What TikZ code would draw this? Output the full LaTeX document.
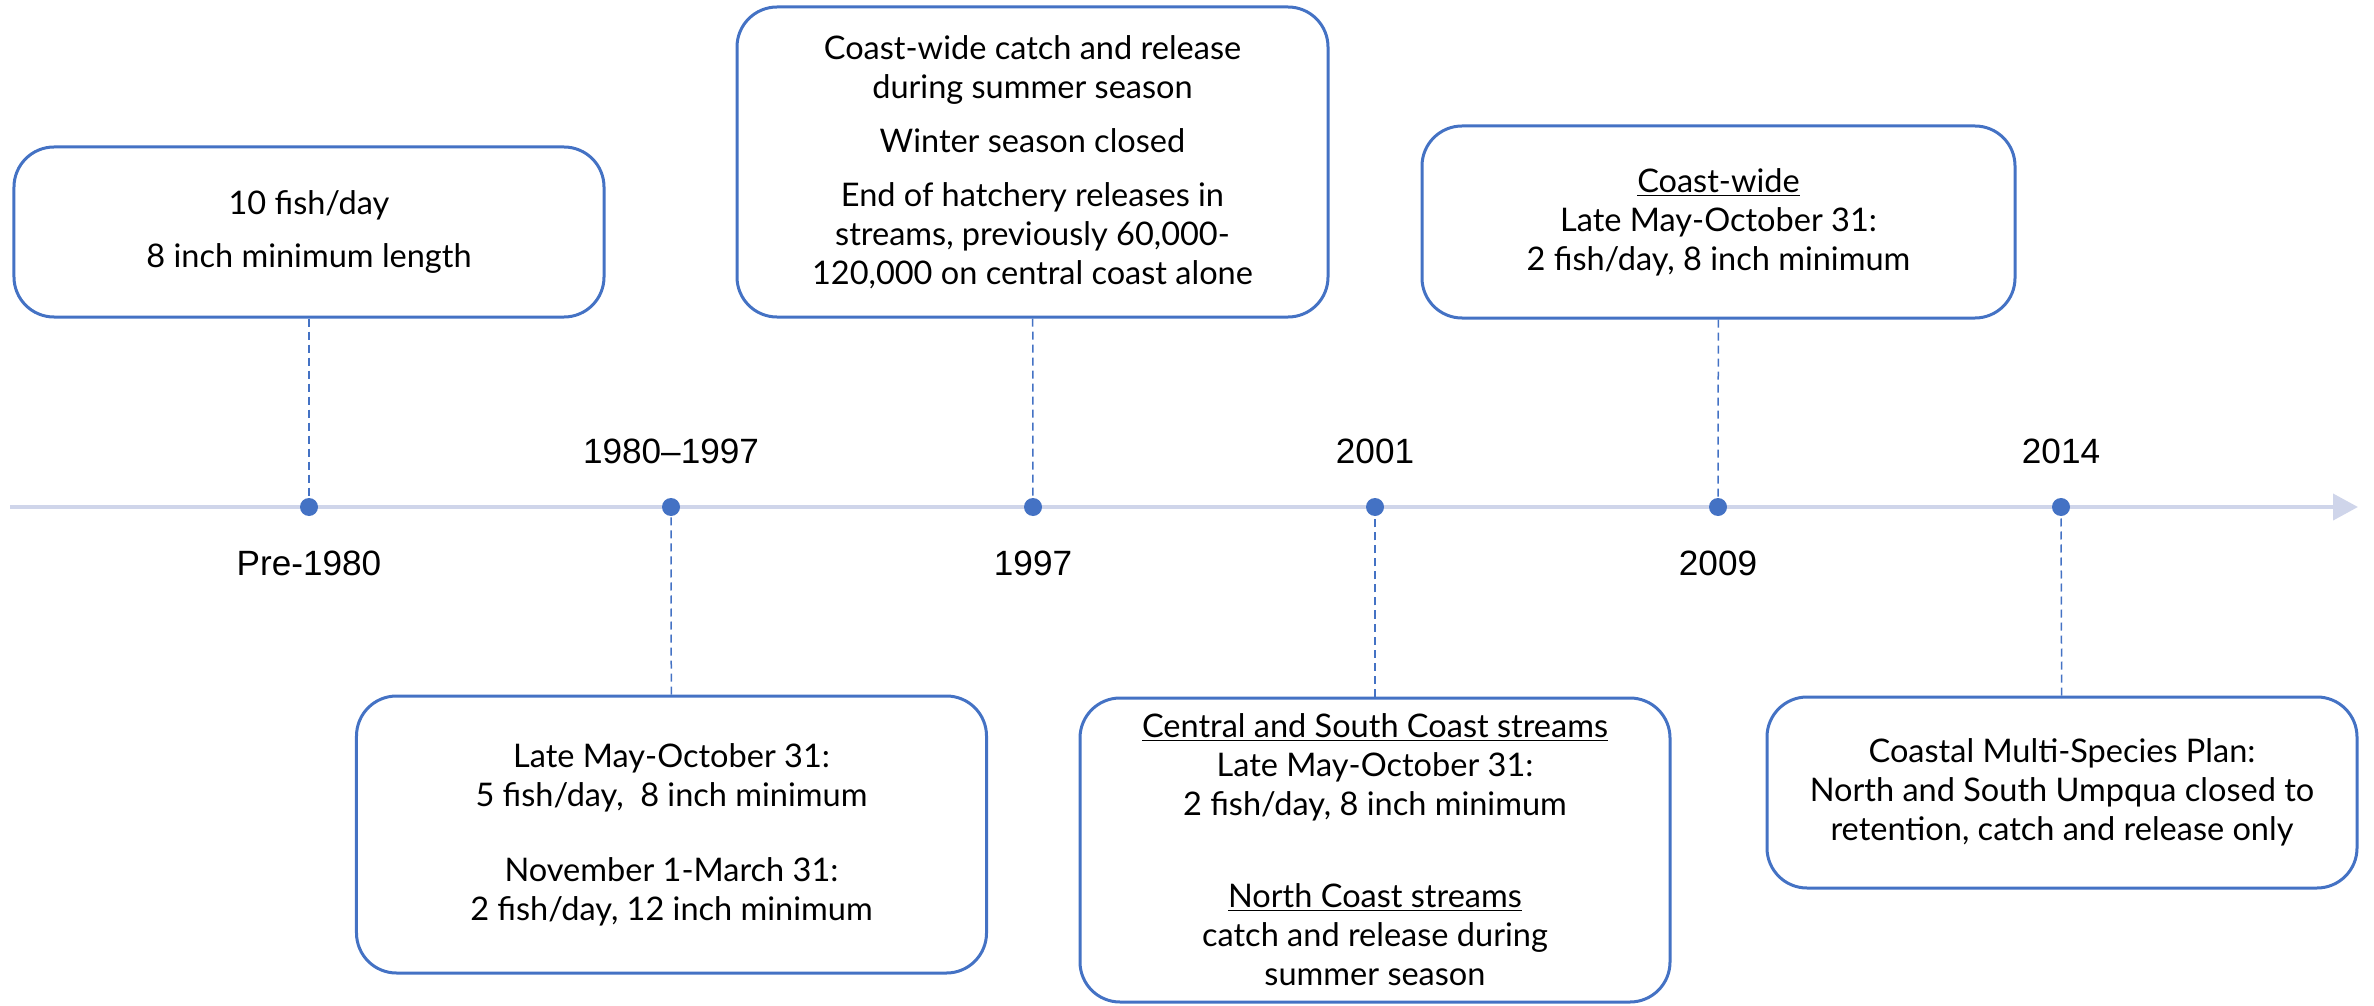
\documentclass[tikz,border=0pt]{standalone}
\usepackage{fontspec}
\setmainfont{Lato}
\newfontfamily\yearfont{Liberation Sans}
\usetikzlibrary{arrows.meta}
\definecolor{tlblue}{RGB}{68,114,196}
\definecolor{tlaxis}{RGB}{207,213,234}

\begin{document}
\begin{tikzpicture}[x=0.2mm, y=-0.2mm,
    evbox/.style={draw=tlblue, line width=0.6mm, fill=white, rounded corners=8mm,
        align=center, inner sep=0pt, font=\fontsize{18.5}{22.2}\selectfont},
    dot/.style={circle, fill=tlblue, minimum size=3.6mm, inner sep=0pt},
    yearlbl/.style={font=\yearfont\fontsize{20}{24}\selectfont, inner sep=0pt},
    dashline/.style={draw=tlblue, line width=0.3mm, dash pattern=on 1.6mm off 1mm}]
    \useasboundingbox (0,0) rectangle (2374,1006);

    % time axis
    \coordinate (ax0) at (10,507);
    \coordinate (ax1) at (2358,507);
    \draw[draw=tlaxis, line width=0.8mm, -{Triangle[length=5mm,width=5.2mm]}] (ax0) -- (ax1);

    % dots and years
    \foreach \i/\x/\yr/\ly in {1/309/Pre-1980/563, 2/671/1980–1997/451, 3/1033/1997/563,
                               4/1375/2001/451, 5/1718/2009/563, 6/2061/2014/451} {
        \node[dot] (p\i) at (\x,507) {};
        \node[yearlbl] (y\i) at (\x,\ly) {\yr};
    }

    % boxes above the axis
    \node[evbox, minimum width=118mm, minimum height=34mm] (b1) at (309,232)
        {10 fish/day\\[2.8mm]8 inch minimum length};
    \node[evbox, minimum width=118.2mm, minimum height=62mm] (b3) at (1032.5,162)
        {Coast-wide catch and release\\during summer season\\[3mm]Winter season closed\\[3mm]%
         End of hatchery releases in\\streams, previously 60,000-\\120,000 on central coast alone};
    \node[evbox, minimum width=118.6mm, minimum height=38.4mm] (b5) at (1718.5,222)
        {\underline{Coast-wide}\\Late May-October 31:\\2 fish/day, 8 inch minimum};

    % boxes below the axis
    \node[evbox, minimum width=126mm, minimum height=55.4mm] (b2) at (671.5,834.5)
        {Late May-October 31:\\5 fish/day,\ \ 8 inch minimum\\[7.2mm]%
         November 1-March 31:\\2 fish/day, 12 inch minimum};
    \node[evbox, minimum width=118mm, minimum height=60.8mm] (b4) at (1375,850)
        {\underline{Central and South Coast streams}\\Late May-October 31:\\2 fish/day, 8 inch minimum\\[10.6mm]%
         \underline{North Coast streams}\\catch and release during\\summer season};
    \node[evbox, minimum width=118mm, minimum height=38.2mm] (b6) at (2062,792.5)
        {Coastal Multi-Species Plan:\\North and South Umpqua closed to\\retention, catch and release only};

    % leaders
    \foreach \i in {1,...,6} {
        \draw[dashline] (b\i) -- (p\i);
    }
\end{tikzpicture}
\end{document}
